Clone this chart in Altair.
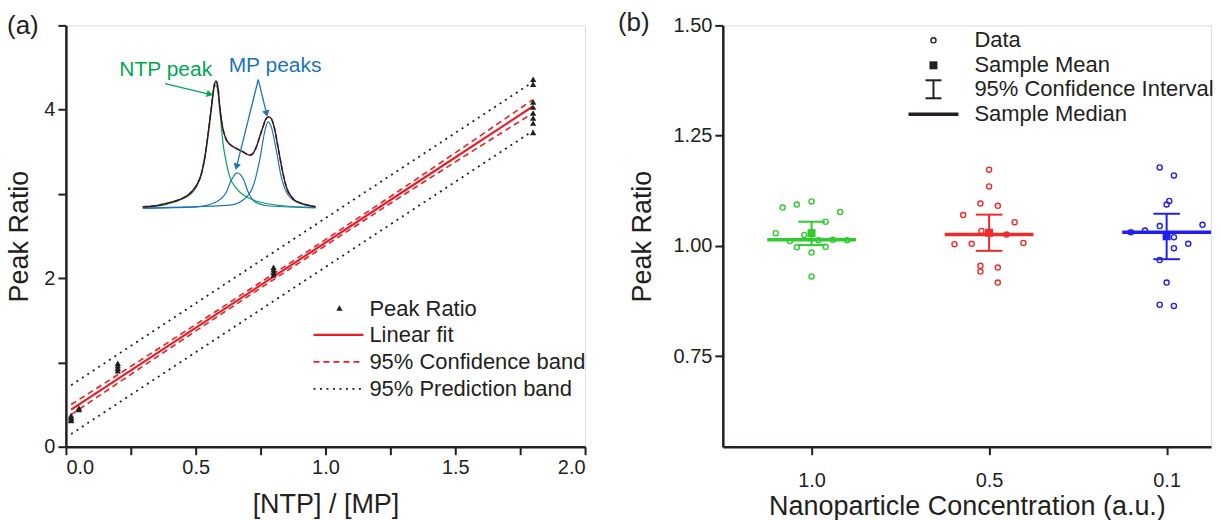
import altair as alt
import pandas as pd

FONT = "Liberation Sans"
INK = "#231f20"
RED = "#ed1c24"
NTP_GREEN = "#00a651"
MP_BLUE = "#1b75bc"

# ---------------- panel (a): peak ratio vs [NTP]/[MP] ----------------
ratio_x = [0.02] * 4 + [0.05] * 2 + [0.2] * 4 + [0.8] * 4 + [1.8] * 8
ratio_y = [0.31, 0.33, 0.35, 0.37,
           0.44, 0.46,
           0.90, 0.93, 0.96, 0.99,
           2.04, 2.07, 2.10, 2.13,
           3.73, 3.84, 3.90, 3.96, 4.03, 4.09, 4.30, 4.36]

band_x = [0.02, 0.45, 0.9, 1.35, 1.8]
fit_y = [0.44, 1.31, 2.22, 3.13, 4.04]
conf_hi = [0.50, 1.35, 2.255, 3.175, 4.12]
conf_lo = [0.38, 1.27, 2.185, 3.085, 3.96]
pred_hi = [0.73, 1.60, 2.51, 3.42, 4.33]
pred_lo = [0.15, 1.02, 1.93, 2.84, 3.75]

# inset spectrum (arbitrary shift units 0-100, normalised intensity)
spec_x = [0, 6.2, 13.8, 21.5, 27.3, 31.2, 34.0, 36.0, 37.9, 39.8, 41.2, 42.3, 43.5, 44.6,
          46.2, 48.5, 50.4, 54.2, 58.1, 61.9, 63.8, 65.8, 67.7, 69.6, 71.5, 73.1, 74.4,
          76.3, 78.3, 80.8, 83.1, 86.9, 90.8, 95.6, 100]
spec_y = [0.005, 0.011, 0.032, 0.063, 0.111, 0.176, 0.268, 0.40, 0.584, 0.795, 0.953, 1.0,
          0.953, 0.795, 0.637, 0.532, 0.50, 0.466, 0.439, 0.413, 0.426, 0.479, 0.558, 0.637,
          0.703, 0.716, 0.703, 0.624, 0.479, 0.295, 0.163, 0.071, 0.037, 0.018, 0.005]
ntp_x = [0, 11.9, 21.5, 29.2, 34.0, 36.9, 39.8, 41.9, 43.1, 44.6, 46.5, 48.5, 50.4, 54.2,
         60.0, 69.6, 81.2, 100]
ntp_y = [0, 0.018, 0.058, 0.124, 0.268, 0.479, 0.795, 0.966, 0.947, 0.768, 0.505, 0.347,
         0.242, 0.15, 0.084, 0.037, 0.013, 0]
mp1_x = [0, 31.2, 42.7, 48.5, 51.3, 54.6, 58.1, 61.0, 64.8, 73.5, 100]
mp1_y = [-0.005, 0.005, 0.045, 0.124, 0.216, 0.274, 0.229, 0.124, 0.045, 0.011, -0.003]
mp2_x = [0, 50.4, 58.1, 63.8, 67.7, 70.6, 72.5, 74.4, 77.3, 80.2, 83.1, 88.8, 100]
mp2_y = [-0.005, 0.018, 0.058, 0.163, 0.374, 0.597, 0.676, 0.637, 0.453, 0.242, 0.124,
         0.045, 0.005]

ntp_label = "NTP peak"
mp_label = "MP peaks"
ntp_arrow_x = [12.9, 38.9]
ntp_arrow_y = [0.979, 0.895]
mp_arrow1_x = [66.9, 54.3]
mp_arrow1_y = [1.011, 0.321]
mp_arrow2_x = [66.9, 71.7]
mp_arrow2_y = [1.011, 0.742]
ntp_label_xy = [13.3, 1.085]
mp_label_xy = [76.6, 1.116]

legend_a = ["Peak Ratio", "Linear fit", "95% Confidence band", "95% Prediction band"]

# ---------------- panel (b): peak ratio vs nanoparticle concentration ----------------
conc_labels = ["1.0", "0.5", "0.1"]
group_colors = ["#2ecc2e", "#ee2a2a", "#1f1fee"]
green_vals = [1.087, 1.094, 1.101, 1.077, 1.055, 1.029, 1.025, 1.011, 1.013, 1.014, 1.013,
              0.997, 0.998, 0.985, 0.931]
green_jit = [-0.163, -0.083, 0, 0.161, 0.079, -0.202, -0.041, -0.122, 0.039, 0.12, 0.2,
             -0.083, 0.079, 0, 0]
red_vals = [1.173, 1.135, 1.096, 1.091, 1.070, 1.054, 1.034, 1.026, 1.004, 1.005, 1.007,
            0.955, 0.942, 0.951, 0.917]
red_jit = [0, 0, -0.049, 0.049, -0.146, 0.144, -0.043, 0.098, -0.195, -0.098, 0.193,
           -0.049, -0.049, 0.049, 0.049]
blue_vals = [1.178, 1.160, 1.102, 1.094, 1.045, 1.048, 1.035, 1.031, 1.020, 1.005, 0.995,
             0.968, 0.917, 0.867, 0.864]
blue_jit = [-0.039, 0.041, 0.015, 0, -0.039, 0.202, -0.122, -0.202, 0.041, 0.122, 0.041,
            -0.039, 0, -0.039, 0.041]
means = [1.029, 1.030, 1.022]
ci_lo = [1.002, 0.989, 0.970]
ci_hi = [1.055, 1.071, 1.073]
medians = [1.014, 1.026, 1.031]

legend_b = ["Data", "Sample Mean", "95% Confidence Interval", "Sample Median"]

# ---------------- shared styling ----------------
AX = dict(domainColor=INK, domainWidth=2.5, tickColor=INK, tickWidth=2, tickSize=8,
          labelFont=FONT, labelFontSize=20, labelColor=INK,
          titleFont=FONT, titleFontSize=27, titleColor=INK, titleFontWeight="normal",
          grid=False)

W_A, H_A = 520, 422
W_B, H_B = 489, 422

# ---------- panel (a) main layers ----------
x_a = alt.X("x:Q", scale=alt.Scale(domain=[0, 2], nice=False, zero=False),
            axis=alt.Axis(title="[NTP] / [MP]", values=[i * 0.25 for i in range(9)],
                          labelExpr="round(datum.value*4) % 2 == 0 ? format(datum.value, '.1f') : ''",
                          labelPadding=3, titlePadding=14, **AX))
y_a = alt.Y("y:Q", scale=alt.Scale(domain=[0, 5], nice=False, zero=False),
            axis=alt.Axis(title="Peak Ratio", values=[0, 1, 2, 3, 4, 5],
                          labelExpr="datum.value % 2 == 0 ? format(datum.value, 'd') : ''",
                          labelPadding=3, titlePadding=10, **AX))

rows = []
for name, ys in [("fit", fit_y), ("chi", conf_hi), ("clo", conf_lo), ("phi", pred_hi), ("plo", pred_lo)]:
    for xv, yv in zip(band_x, ys):
        rows.append({"x": xv, "y": yv, "line": name})
bands = pd.DataFrame(rows)

pred_layer = alt.Chart(bands).transform_filter("datum.line == 'phi' || datum.line == 'plo'").mark_line(
    color=INK, strokeWidth=1.8, strokeDash=[2, 4.5], interpolate="monotone"
).encode(x=x_a, y=y_a, detail="line:N")
conf_layer = alt.Chart(bands).transform_filter("datum.line == 'chi' || datum.line == 'clo'").mark_line(
    color=RED, strokeWidth=1.6, strokeDash=[6, 4], interpolate="monotone"
).encode(x=x_a, y=y_a, detail="line:N")
fit_layer = alt.Chart(bands).transform_filter("datum.line == 'fit'").mark_line(
    color=RED, strokeWidth=2.2
).encode(x=x_a, y=y_a)
pts_layer = alt.Chart(pd.DataFrame({"x": ratio_x, "y": ratio_y})).mark_point(
    shape="triangle-up", filled=True, color=INK, size=40, opacity=1
).encode(x=x_a, y=y_a)

one = pd.DataFrame({"k": [0]})
def txt(text, x, y, size=22, color=INK, align="left"):
    return alt.Chart(one).mark_text(text=text, font=FONT, fontSize=size, color=color,
                                    align=align, baseline="middle").encode(
        x=alt.value(x), y=alt.value(y))

leg_rows = [284, 310, 337, 364]
leg_a = [
    alt.Chart(one).mark_point(shape="triangle-up", filled=True, color=INK, size=40, opacity=1).encode(
        x=alt.value(274), y=alt.value(leg_rows[0] - 1)),
    alt.Chart(one).mark_rule(color=RED, strokeWidth=2.2).encode(
        x=alt.value(248), x2=alt.value(298), y=alt.value(leg_rows[1])),
    alt.Chart(one).mark_rule(color=RED, strokeWidth=1.6, strokeDash=[6, 4]).encode(
        x=alt.value(248), x2=alt.value(298), y=alt.value(leg_rows[2])),
    alt.Chart(one).mark_rule(color=INK, strokeWidth=1.8, strokeDash=[2, 4.5]).encode(
        x=alt.value(248), x2=alt.value(298), y=alt.value(leg_rows[3])),
]
leg_a += [txt(t, 304, r) for t, r in zip(legend_a, leg_rows)]
tag_a = txt("(a)", -59, 1, size=26)

main_a = alt.layer(pred_layer, conf_layer, fit_layer, pts_layer, *leg_a, tag_a)

# ---------- panel (a) inset ----------
ix = alt.X("ix:Q", scale=alt.Scale(domain=[-44.5, 256.1], nice=False, zero=False), axis=None)
iy = alt.Y("iy:Q", scale=alt.Scale(domain=[-1.893, 1.440], nice=False, zero=False), axis=None)

def curve(xs, ys, color, width, dash=None):
    kw = dict(color=color, strokeWidth=width, interpolate="monotone")
    if dash:
        kw["strokeDash"] = dash
    return alt.Chart(pd.DataFrame({"ix": xs, "iy": ys})).mark_line(**kw).encode(x=ix, y=iy)

def arrow(xs, ys, color, angle):
    line = alt.Chart(pd.DataFrame({"ix": xs, "iy": ys})).mark_line(color=color, strokeWidth=1.3).encode(x=ix, y=iy)
    head = alt.Chart(pd.DataFrame({"ix": xs[-1:], "iy": ys[-1:]})).mark_point(
        shape="triangle-up", filled=True, color=color, size=55, opacity=1, angle=angle).encode(x=ix, y=iy)
    return [line, head]

def inset_text(text, xy, color):
    return alt.Chart(pd.DataFrame({"ix": [xy[0]], "iy": [xy[1]]})).mark_text(
        text=text, font=FONT, fontSize=21, color=color, align="center", baseline="middle"
    ).encode(x=ix, y=iy)

inset = alt.layer(
    curve(ntp_x, ntp_y, NTP_GREEN, 1.2),
    curve(mp1_x, mp1_y, MP_BLUE, 1.2),
    curve(mp2_x, mp2_y, MP_BLUE, 1.2),
    curve(spec_x, spec_y, RED, 1.6, dash=[5, 3]),
    curve(spec_x, spec_y, INK, 1.4),
    *arrow(ntp_arrow_x, ntp_arrow_y, NTP_GREEN, 104),
    *arrow(mp_arrow1_x, mp_arrow1_y, MP_BLUE, 194),
    *arrow(mp_arrow2_x, mp_arrow2_y, MP_BLUE, 166),
    inset_text(ntp_label, ntp_label_xy, NTP_GREEN),
    inset_text(mp_label, mp_label_xy, MP_BLUE),
)

panel_a = alt.layer(main_a, inset).resolve_scale(x="independent", y="independent").properties(
    width=W_A, height=H_A)

# ---------- panel (b) ----------
prow = []
for gi, (vals, jit) in enumerate([(green_vals, green_jit), (red_vals, red_jit), (blue_vals, blue_jit)]):
    for v, j in zip(vals, jit):
        prow.append({"g": conc_labels[gi], "pos": gi + 1, "jit": j, "v": v})
pdf = pd.DataFrame(prow)
sdf = pd.DataFrame({"g": conc_labels, "pos": [1, 2, 3], "mean": means, "lo": ci_lo,
                    "hi": ci_hi, "med": medians})

color_b = alt.Color("g:N", scale=alt.Scale(domain=conc_labels, range=group_colors), legend=None)
label_expr_b = "datum.value == 1 ? '%s' : datum.value == 2 ? '%s' : datum.value == 3 ? '%s' : ''" % tuple(conc_labels)
xb_scale = alt.Scale(domain=[0.5, 3.25], nice=False, zero=False)
xb_axis = alt.Axis(title="Nanoparticle Concentration (a.u.)", values=[1, 2, 3],
                   labelExpr=label_expr_b, labelPadding=16, titlePadding=3, **AX)
yb_scale = alt.Scale(domain=[0.545, 1.5], nice=False, zero=False)
yb_axis = alt.Axis(title="Peak Ratio", values=[0.75, 1.0, 1.25, 1.5], format=".2f",
                   labelPadding=3, titlePadding=17, **AX)

def xb(field):
    return alt.X(field, type="quantitative", scale=xb_scale, axis=xb_axis)

def yb(field):
    return alt.Y(field, type="quantitative", scale=yb_scale, axis=yb_axis)

data_pts = alt.Chart(pdf).transform_calculate(px="datum.pos + datum.jit").mark_point(
    shape="circle", filled=False, size=26, strokeWidth=1.4, opacity=1
).encode(x=xb("px"), y=yb("v"), color=color_b)

stats = alt.Chart(sdf).transform_calculate(
    ml="datum.pos - 0.25", mr="datum.pos + 0.25", cl="datum.pos - 0.075", cr="datum.pos + 0.075")
median_line = stats.mark_rule(strokeWidth=3.5).encode(x=xb("ml"), x2="mr:Q", y=yb("med"), color=color_b)
ci_line = stats.mark_rule(strokeWidth=2).encode(x=xb("pos"), y=yb("lo"), y2="hi:Q", color=color_b)
cap_lo = stats.mark_rule(strokeWidth=2).encode(x=xb("cl"), x2="cr:Q", y=yb("lo"), color=color_b)
cap_hi = stats.mark_rule(strokeWidth=2).encode(x=xb("cl"), x2="cr:Q", y=yb("hi"), color=color_b)
mean_pt = stats.mark_point(shape="square", filled=True, size=64, opacity=1).encode(
    x=xb("pos"), y=yb("mean"), color=color_b)

lb_rows = [15, 40, 64, 89]
leg_b = [
    alt.Chart(one).mark_point(shape="circle", filled=False, size=26, strokeWidth=1.4, color=INK, opacity=1).encode(
        x=alt.value(211), y=alt.value(lb_rows[0])),
    alt.Chart(one).mark_point(shape="square", filled=True, size=64, color=INK, opacity=1).encode(
        x=alt.value(211), y=alt.value(lb_rows[1])),
    alt.Chart(one).mark_rule(color=INK, strokeWidth=2).encode(
        x=alt.value(211), y=alt.value(lb_rows[2] - 9), y2=alt.value(lb_rows[2] + 9)),
    alt.Chart(one).mark_rule(color=INK, strokeWidth=2).encode(
        x=alt.value(203), x2=alt.value(219), y=alt.value(lb_rows[2] - 9)),
    alt.Chart(one).mark_rule(color=INK, strokeWidth=2).encode(
        x=alt.value(203), x2=alt.value(219), y=alt.value(lb_rows[2] + 9)),
    alt.Chart(one).mark_rule(color=INK, strokeWidth=3.5).encode(
        x=alt.value(186), x2=alt.value(236), y=alt.value(lb_rows[3])),
]
leg_b += [txt(t, 252, r) for t, r in zip(legend_b, lb_rows)]
tag_b = txt("(b)", -105, -2, size=26)

panel_b = alt.layer(data_pts, median_line, ci_line, cap_lo, cap_hi, mean_pt, *leg_b, tag_b).properties(
    width=W_B, height=H_B)

chart = alt.hconcat(panel_a, panel_b, spacing=30).properties(
    padding={"left": 5, "top": 9, "right": 5, "bottom": 5}
).configure_view(stroke=None).configure(font=FONT)

chart.save("out.html", embed_options={"renderer": "svg", "actions": False})
